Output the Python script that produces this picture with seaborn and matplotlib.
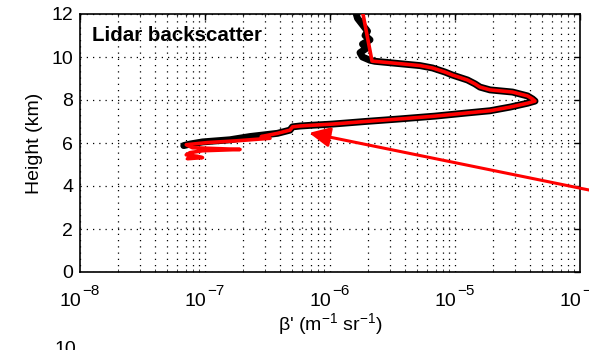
import numpy as np
import pandas as pd
import matplotlib
matplotlib.use("Agg")
import matplotlib.pyplot as plt
import seaborn as sns
from matplotlib.ticker import LogLocator, NullFormatter, MultipleLocator
from matplotlib.transforms import blended_transform_factory, offset_copy

# Attenuated backscatter profile (raw), log10(beta') versus height in km
raw_height = [12.0, 11.8, 11.5, 11.2, 11.0, 10.8, 10.6, 10.4, 10.2, 10.0, 9.85, 9.8,
              9.7, 9.6, 9.49, 9.3, 9.16, 8.93, 8.75, 8.6, 8.47, 8.37, 8.19, 8.05,
              7.95, 7.85, 7.67, 7.5, 7.4, 7.25, 7.12, 7.0, 6.88, 6.82, 6.79, 6.75,
              6.6, 6.45, 6.3, 6.15, 6.05, 5.95, 5.88]
raw_logbeta = [-5.79, -5.78, -5.74, -5.70, -5.72, -5.68, -5.74, -5.71, -5.76, -5.74, -5.68, -5.64,
               -5.46, -5.28, -5.18, -5.08, -5.02, -4.90, -4.84, -4.80, -4.72, -4.54, -4.42, -4.38,
               -4.36, -4.42, -4.56, -4.72, -4.90, -5.16, -5.44, -5.72, -5.98, -6.16, -6.24, -6.30,
               -6.32, -6.42, -6.64, -6.80, -7.02, -7.12, -7.17]

# Fitted / retrieved profile
fit_height = [12.0, 9.81, 9.7, 9.6, 9.49, 9.3, 9.16, 8.93, 8.75, 8.6, 8.47, 8.37, 8.19, 8.05,
              7.95, 7.85, 7.67, 7.5, 7.4, 7.25, 7.12, 7.0, 6.88, 6.82, 6.79, 6.75,
              6.6, 6.45, 6.3, 6.22, 6.1, 6.02, 5.92, 5.78, 5.7, 5.64, 5.55, 5.45,
              5.38, 5.32, 5.27]
fit_logbeta = [-5.736, -5.664, -5.46, -5.28, -5.18, -5.08, -5.02, -4.90, -4.84, -4.80, -4.72, -4.54, -4.42, -4.38,
               -4.36, -4.42, -4.56, -4.72, -4.90, -5.16, -5.44, -5.72, -5.98, -6.16, -6.24, -6.30,
               -6.32, -6.42, -6.55, -6.48, -6.75, -6.98, -7.15, -7.10, -6.72, -7.02, -7.12, -7.15,
               -7.06, -7.02, -7.14]

# decade exponents labelled on the x axis
x_exponents = [-8, -7, -6, -5, -4]

raw = pd.DataFrame({"beta": np.power(10.0, raw_logbeta), "height": raw_height})
fit = pd.DataFrame({"beta": np.power(10.0, fit_logbeta), "height": fit_height})

sns.set_style("white")
plt.rcParams["font.family"] = ["Liberation Sans", "DejaVu Sans"]
plt.rcParams["mathtext.fontset"] = "custom"
plt.rcParams["mathtext.rm"] = "Liberation Sans"
plt.rcParams["mathtext.it"] = "Liberation Sans:italic"
plt.rcParams["text.color"] = "black"
plt.rcParams["axes.labelcolor"] = "black"

fig = plt.figure(figsize=(5.89, 3.5), dpi=100)
ax = fig.add_axes([80 / 589, 1 - 272 / 350, 500 / 589, 258 / 350])

ax.set_xscale("log")
sns.lineplot(data=raw, x="beta", y="height", sort=False, estimator=None,
             color="black", linewidth=5.0, ax=ax, zorder=3)
sns.lineplot(data=fit, x="beta", y="height", sort=False, estimator=None,
             color="#ff0000", linewidth=2.6, ax=ax, zorder=4)

ax.set_xlim(1e-8, 1e-4)
ax.set_ylim(0, 12)
ax.xaxis.set_major_locator(LogLocator(base=10, numticks=10))
ax.xaxis.set_minor_locator(LogLocator(base=10, subs=np.arange(2, 10), numticks=40))
ax.xaxis.set_major_formatter(NullFormatter())
ax.yaxis.set_major_locator(MultipleLocator(2))

ax.grid(True, which="major", axis="both", color="black", linestyle=(0, (1, 4)), linewidth=0.9)
ax.grid(True, which="minor", axis="x", color="black", linestyle=(0, (1, 4)), linewidth=0.9)

for s in ax.spines.values():
    s.set_color("black")
    s.set_linewidth(1.2)

ax.tick_params(axis="both", which="major", direction="in", length=4, width=1,
               top=True, right=True, labelsize=14, colors="black")
ax.tick_params(axis="y", which="major", pad=5)
ax.tick_params(axis="x", which="minor", direction="in", length=2, top=True, bottom=True)

# x tick labels drawn as base "10" with a raised exponent
xtr = blended_transform_factory(ax.transData, ax.transAxes)
for e in x_exponents:
    base_tr = offset_copy(xtr, fig=fig, x=-10, y=-30, units="dots")
    ax.text(10.0 ** e, 0, "10", transform=base_tr, ha="center", va="center",
            fontsize=14, clip_on=False)
    exp_tr = offset_copy(xtr, fig=fig, x=2, y=-19, units="dots")
    ax.text(10.0 ** e, 0, "\u2212%d" % abs(e), transform=exp_tr, ha="left", va="center",
            fontsize=11, clip_on=False)

ax.set_xlabel("\u03b2' (m$^{-1}$ sr$^{-1}$)", fontsize=14, labelpad=25)
ax.set_ylabel("Height (km)", fontsize=14, labelpad=6)

ax.text(0.025, 0.918, "Lidar backscatter", transform=ax.transAxes,
        fontsize=14.8, fontweight="bold", ha="left", va="center", zorder=6)

# pointer arrow coming in from the right edge
ax.annotate("", xy=(6.8e-7, 6.47), xycoords="data",
            xytext=(1.0, 1 - 190 / 350), textcoords="figure fraction",
            arrowprops=dict(arrowstyle="-|>,head_length=1.25,head_width=0.6",
                            color="#ff0000", lw=2.2, shrinkA=0, shrinkB=0),
            annotation_clip=False, zorder=7)

# top of the next panel's tick label below
fig.text(65 / 589, 1 - 341 / 350, "10", fontsize=14, ha="center", va="top")

fig.savefig("out.png", dpi=100)
